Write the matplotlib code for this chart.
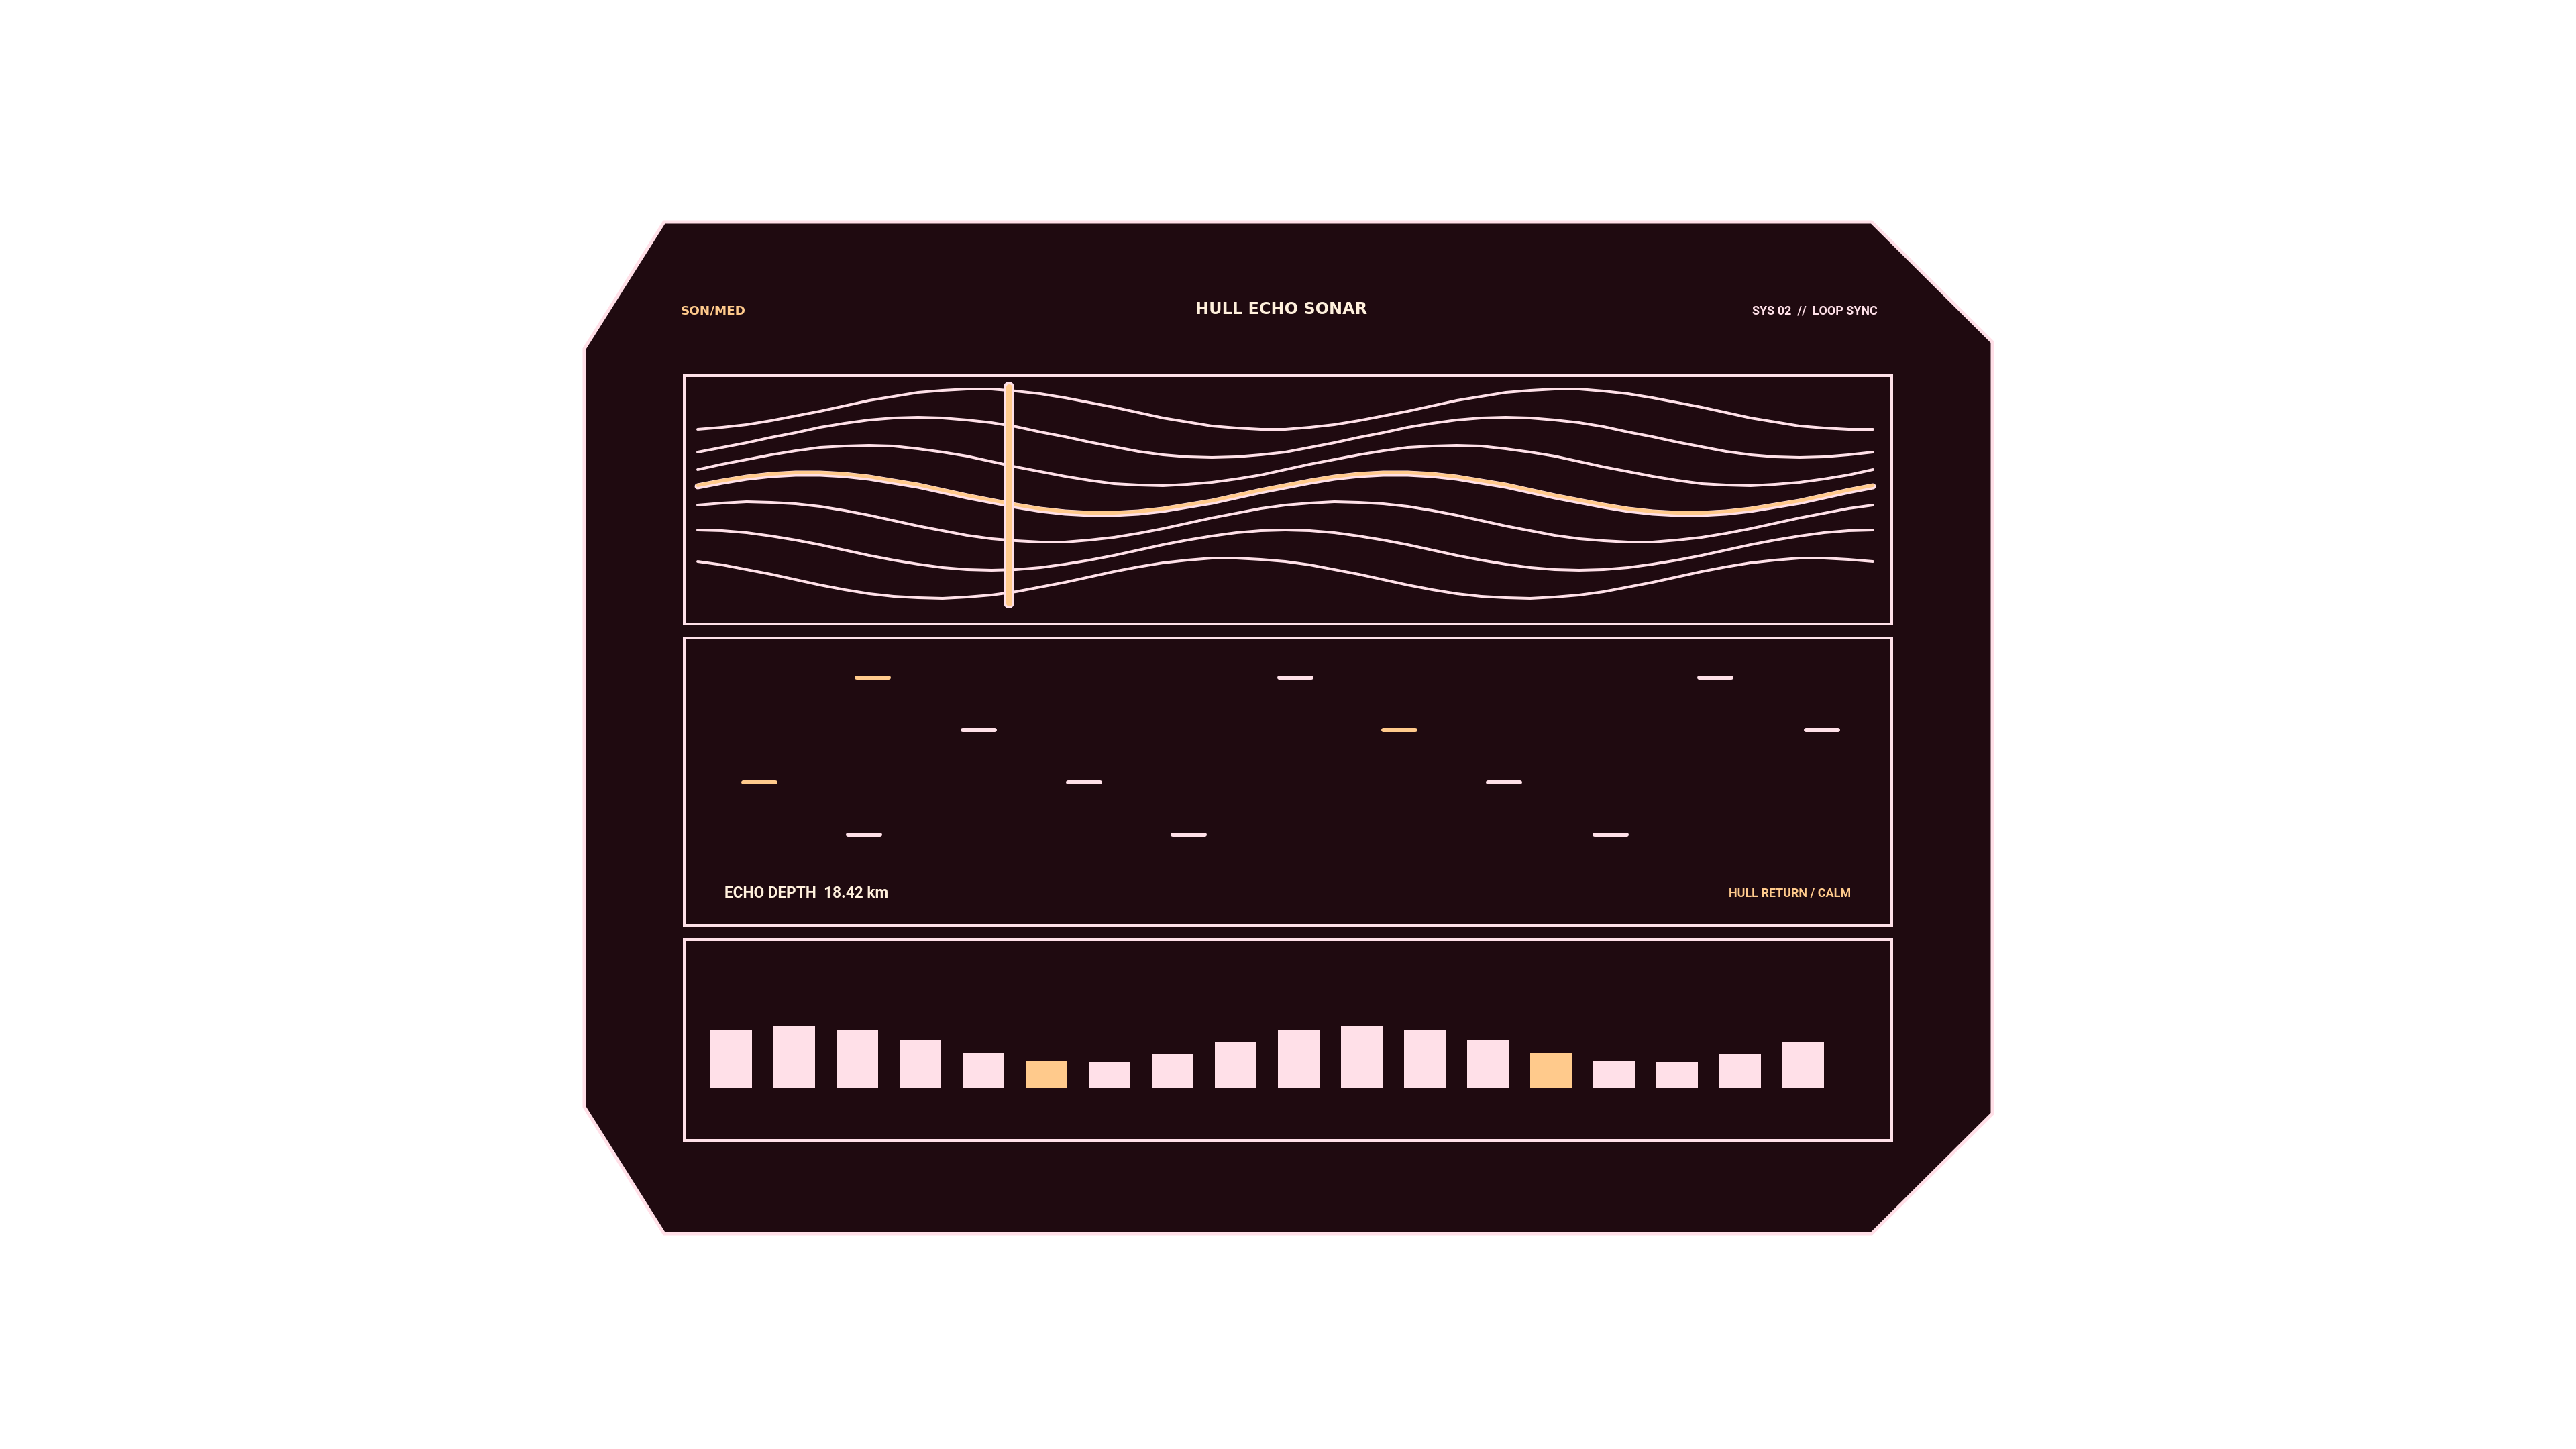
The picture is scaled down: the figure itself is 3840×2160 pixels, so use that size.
import matplotlib
matplotlib.use('Agg')
import matplotlib.pyplot as plt
from matplotlib.patches import Polygon
from matplotlib.transforms import offset_copy

W, H = 3840, 2160
BG = '#1f0a10'
PINK = '#ffe0e8'
ORANGE = '#ffca8c'
CREAM = '#fff0dc'
PX = 0.72  # points per pixel at dpi 100

# ---- data ----
# wave panel: 49 samples across, level in tenths of the panel height
wave_x = list(range(49))
wave_lines = [
    [29.0, 29.3, 29.7, 30.3, 31.0, 31.7, 32.5, 33.3, 33.9, 34.5, 34.8, 35.0,
     35.0, 34.7, 34.3, 33.7, 33.0, 32.3, 31.5, 30.7, 30.1, 29.5, 29.2, 29.0,
     29.0, 29.3, 29.7, 30.3, 31.0, 31.7, 32.5, 33.3, 33.9, 34.5, 34.8, 35.0,
     35.0, 34.7, 34.3, 33.7, 33.0, 32.3, 31.5, 30.7, 30.1, 29.5, 29.2, 29.0, 29.0],
    [25.6, 26.3, 27.0, 27.8, 28.5, 29.3, 29.9, 30.4, 30.7, 30.8, 30.7, 30.4,
     30.0, 29.4, 28.6, 27.9, 27.1, 26.4, 25.7, 25.2, 24.9, 24.8, 24.9, 25.2,
     25.6, 26.3, 27.0, 27.8, 28.5, 29.3, 29.9, 30.4, 30.7, 30.8, 30.7, 30.4,
     30.0, 29.4, 28.6, 27.9, 27.1, 26.4, 25.7, 25.2, 24.9, 24.8, 24.9, 25.2, 25.6],
    [23.0, 23.8, 24.5, 25.2, 25.8, 26.3, 26.5, 26.6, 26.5, 26.1, 25.6, 25.0,
     24.2, 23.4, 22.7, 22.0, 21.4, 20.9, 20.7, 20.6, 20.8, 21.1, 21.6, 22.2,
     23.0, 23.8, 24.5, 25.2, 25.8, 26.3, 26.5, 26.6, 26.5, 26.1, 25.6, 25.0,
     24.2, 23.4, 22.7, 22.0, 21.4, 20.9, 20.7, 20.6, 20.8, 21.1, 21.6, 22.2, 23.0],
    [17.7, 18.0, 18.2, 18.1, 17.9, 17.5, 16.9, 16.2, 15.4, 14.6, 13.9, 13.2,
     12.7, 12.4, 12.2, 12.2, 12.5, 12.9, 13.5, 14.2, 15.0, 15.8, 16.5, 17.2,
     17.7, 18.0, 18.2, 18.1, 17.9, 17.5, 16.9, 16.2, 15.4, 14.6, 13.9, 13.2,
     12.7, 12.4, 12.2, 12.2, 12.5, 12.9, 13.5, 14.2, 15.0, 15.8, 16.5, 17.2, 17.7],
    [14.0, 13.9, 13.6, 13.1, 12.5, 11.8, 11.0, 10.2, 9.5, 8.9, 8.4, 8.1,
     8.0, 8.1, 8.4, 8.9, 9.5, 10.2, 11.0, 11.8, 12.5, 13.1, 13.6, 13.9,
     14.0, 13.9, 13.6, 13.1, 12.5, 11.8, 11.0, 10.2, 9.5, 8.9, 8.4, 8.1,
     8.0, 8.1, 8.4, 8.9, 9.5, 10.2, 11.0, 11.8, 12.5, 13.1, 13.6, 13.9, 14.0],
    [9.3, 8.8, 8.1, 7.4, 6.6, 5.8, 5.1, 4.5, 4.1, 3.9, 3.8, 4.0,
     4.3, 4.8, 5.5, 6.2, 7.0, 7.8, 8.5, 9.1, 9.5, 9.8, 9.8, 9.6,
     9.3, 8.8, 8.1, 7.4, 6.6, 5.8, 5.1, 4.5, 4.1, 3.9, 3.8, 4.0,
     4.3, 4.8, 5.5, 6.2, 7.0, 7.8, 8.5, 9.1, 9.5, 9.8, 9.8, 9.6, 9.3],
]
echo_trace = [20.5, 21.2, 21.8, 22.2, 22.4, 22.4, 22.2, 21.8, 21.2, 20.6, 19.8, 19.0,
              18.3, 17.6, 17.0, 16.6, 16.4, 16.4, 16.6, 17.0, 17.6, 18.2, 19.0, 19.8,
              20.5, 21.2, 21.8, 22.2, 22.4, 22.4, 22.2, 21.8, 21.2, 20.6, 19.8, 19.0,
              18.3, 17.6, 17.0, 16.6, 16.4, 16.4, 16.6, 17.0, 17.6, 18.2, 19.0, 19.8, 20.5]
cursor_x = 12.71
cursor_span = (3.1, 35.3)

# echo panel: range position (0-100) and row of each return
echo_x = [6.2, 14.9, 15.6, 24.4, 33.1, 41.8, 50.6, 59.2, 67.9, 76.7, 85.4, 94.2]
echo_row = [3, 4, 1, 2, 3, 4, 1, 2, 3, 4, 1, 2]
echo_hot = [True, False, True, False, False, False, False, True, False, False, False, False]

# level bars
bar_vals = [0.86, 0.93, 0.87, 0.71, 0.53, 0.40, 0.39, 0.51, 0.69,
            0.86, 0.93, 0.87, 0.71, 0.53, 0.40, 0.39, 0.51, 0.69]
bar_hot = [5, 13]

title = 'HULL ECHO SONAR'
left_tag = 'SON/MED'
right_tag = 'SYS 02  //  LOOP SYNC'
depth_label = 'ECHO DEPTH  18.42 km'
status_label = 'HULL RETURN / CALM'

fig = plt.figure(figsize=(W / 100, H / 100), dpi=100, facecolor='white')


def px_axes(x0, y0, x1, y1):
    ax = fig.add_axes([x0 / W, 1 - y1 / H, (x1 - x0) / W, (y1 - y0) / H])
    ax.set_facecolor(BG)
    ax.set_xticks([])
    ax.set_yticks([])
    for s in ax.spines.values():
        s.set_color(PINK)
        s.set_linewidth(4 * PX)
    return ax


# background octagon + header
bg = fig.add_axes([0, 0, 1, 1])
bg.set_xlim(0, W)
bg.set_ylim(H, 0)
bg.axis('off')
octo = [(990, 331), (2790, 331), (2970, 510), (2970, 1660),
        (2790, 1839), (990, 1839), (871, 1650), (871, 520)]
bg.add_patch(Polygon(octo, closed=True, facecolor=BG, edgecolor=PINK,
                     linewidth=5 * PX, joinstyle='miter'))
font = ['Roboto', 'DejaVu Sans']
wide = ['DejaVu Sans']
bg.text(1015, 463, left_tag, color=ORANGE, fontsize=13.2, fontweight='bold',
        family=wide, ha='left', va='center')
bg.text(1910, 461, title, color=CREAM, fontsize=17.2, fontweight='bold',
        family=wide, ha='center', va='center')
bg.text(2799, 463, right_tag, color=PINK, fontsize=13, fontweight='bold',
        family=font, ha='right', va='center')

# wave panel
ax1 = px_axes(1020, 560, 2820, 930)
ax1.set_xlim(-0.548, 48.767)
ax1.set_ylim(0, 37)
for ys in wave_lines:
    ax1.plot(wave_x, ys, color=PINK, lw=4 * PX, solid_capstyle='round')
ax1.plot(wave_x, echo_trace, color=PINK, lw=9 * PX, solid_capstyle='round')
shift = offset_copy(ax1.transData, fig=fig, x=0, y=1.5, units='dots')
ax1.plot(wave_x, echo_trace, color=ORANGE, lw=5 * PX, solid_capstyle='round',
         transform=shift)
ax1.plot([cursor_x, cursor_x], cursor_span, color=PINK, lw=16 * PX,
         solid_capstyle='round', zorder=5)
ax1.plot([cursor_x, cursor_x], cursor_span, color=ORANGE, lw=9 * PX,
         solid_capstyle='round', zorder=6)

# echo returns panel
ax2 = px_axes(1020, 951, 2820, 1380)
ax2.set_xlim(0, 100)
ax2.set_ylim(5.744, 0.244)
half = 1.33
for x, r, hot in zip(echo_x, echo_row, echo_hot):
    ax2.plot([x - half, x + half], [r, r], color=ORANGE if hot else PINK,
             lw=6 * PX, solid_capstyle='round')
ax2.text(0.0333, 0.112, depth_label, transform=ax2.transAxes, color=CREAM,
         fontsize=16.3, fontweight='bold', family=font, ha='left', va='center')
ax2.text(0.966, 0.112, status_label, transform=ax2.transAxes, color=ORANGE,
         fontsize=13, fontweight='bold', family=font, ha='right', va='center')

# level bars panel
ax3 = px_axes(1020, 1400, 2820, 1700)
ax3.set_xlim(-0.745, 18.404)
ax3.set_ylim(-0.78, 2.22)
cols = [ORANGE if i in bar_hot else PINK for i in range(len(bar_vals))]
ax3.bar(range(len(bar_vals)), bar_vals, width=0.66, color=cols, linewidth=0)

fig.savefig('out.png', dpi=100, facecolor='white')
